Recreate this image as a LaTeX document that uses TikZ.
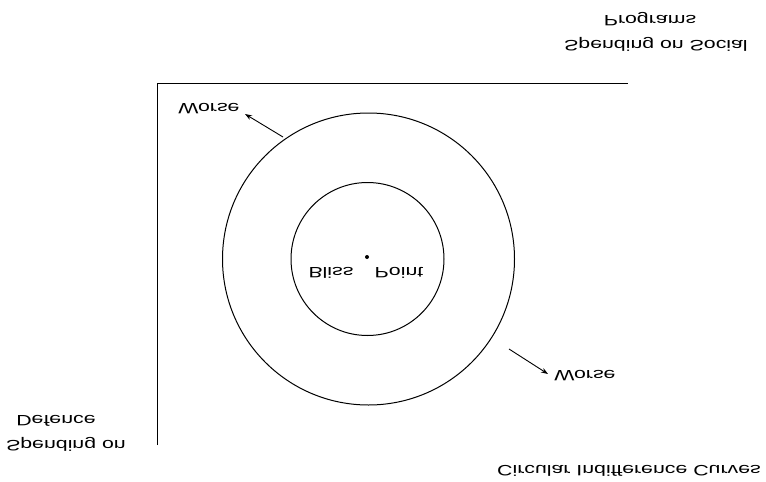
\documentclass[tikz,border=0pt]{standalone}
\usepackage{fontspec}
\setmainfont{Liberation Sans}
\usetikzlibrary{arrows.meta}
\begin{document}
\begin{tikzpicture}[x=1pt,y=-1pt,
  lbl/.style={font=\fontsize{15}{18}\selectfont, inner sep=0pt, anchor=base, yscale=-1, xscale=1.42},
  ln/.style={line width=1pt},
  arr/.style={line width=0.9pt, -{Stealth[length=7pt,width=5pt]}}]
\useasboundingbox (0,0) rectangle (766,482);
% axes
\coordinate (ytop) at (157,83);
\coordinate (ybot) at (157,445);
\coordinate (xend) at (628,83);
\draw[ln] (ybot) -- (ytop) -- (xend);
% circles
\node[ln, draw, circle, minimum size=292pt, inner sep=0pt] (outer) at (368.5,259) {};
\node[ln, draw, circle, minimum size=153pt, inner sep=0pt] (inner) at (367.5,259) {};
\node[fill, circle, inner sep=0pt, minimum size=4pt] (bliss) at (367,257) {};
% labels
\node[lbl] (lb1) at (331,267) {Bliss};
\node[lbl] (lb2) at (399,267) {Point};
\node[lbl] (w1) at (209,103) {Worse};
\node[lbl] (w2) at (585,370) {Worse};
\node[lbl] (p1) at (650,15) {Programs};
\node[lbl] (p2) at (656,40) {Spending on Social};
\node[lbl] (d1) at (56,415) {Defence};
\node[lbl] (d2) at (66,440) {Spending on};
\node[lbl] (c1) at (629,465) {Circular Indifference Curves};
% arrows
\coordinate (a1s) at (283,137);
\coordinate (a1e) at (245,114);
\coordinate (a2s) at (509,349);
\coordinate (a2e) at (548,374);
\draw[arr] (a1s) -- (a1e);
\draw[arr] (a2s) -- (a2e);
\end{tikzpicture}
\end{document}
